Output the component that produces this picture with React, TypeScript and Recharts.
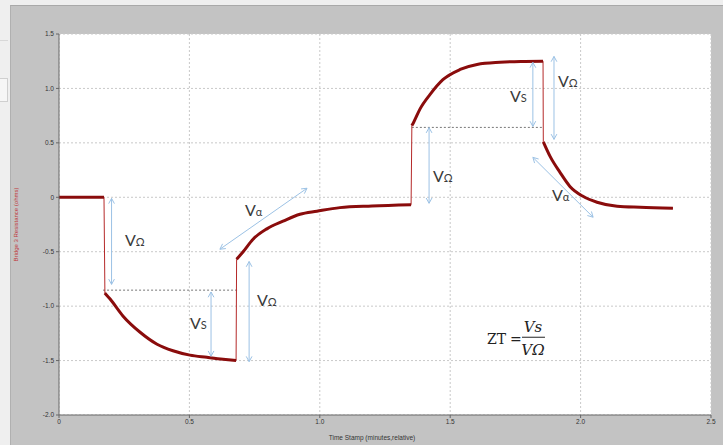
import React from 'react';
import {
  LineChart, Line, XAxis, YAxis, CartesianGrid, ReferenceLine, ReferenceDot, Label,
} from 'recharts';

// ---- data (time in minutes, resistance in ohms) ----
const flatSeg = [
  { t: 0, r: 0 }, { t: 0.1725, r: 0 },
];
const decaySeg1 = [
  { t: 0.176, r: -0.88 }, { t: 0.196, r: -0.935 }, { t: 0.245, r: -1.09 }, { t: 0.311, r: -1.24 },
  { t: 0.376, r: -1.35 }, { t: 0.437, r: -1.41 }, { t: 0.502, r: -1.45 }, { t: 0.567, r: -1.47 },
  { t: 0.629, r: -1.488 }, { t: 0.679, r: -1.5 },
];
const riseSeg1 = [
  { t: 0.681, r: -0.57 }, { t: 0.706, r: -0.5 }, { t: 0.744, r: -0.385 }, { t: 0.797, r: -0.29 },
  { t: 0.859, r: -0.22 }, { t: 0.924, r: -0.156 }, { t: 0.989, r: -0.128 }, { t: 1.077, r: -0.095 },
  { t: 1.2, r: -0.08 }, { t: 1.35, r: -0.068 },
];
const riseSeg2 = [
  { t: 1.353, r: 0.66 }, { t: 1.36, r: 0.69 }, { t: 1.384, r: 0.81 }, { t: 1.423, r: 0.945 },
  { t: 1.472, r: 1.08 }, { t: 1.538, r: 1.174 }, { t: 1.603, r: 1.22 }, { t: 1.691, r: 1.24 },
  { t: 1.77, r: 1.248 }, { t: 1.856, r: 1.25 },
];
const decaySeg2 = [
  { t: 1.857, r: 0.51 }, { t: 1.883, r: 0.376 }, { t: 1.921, r: 0.229 }, { t: 1.959, r: 0.1 },
  { t: 2.009, r: 0.009 }, { t: 2.063, r: -0.046 }, { t: 2.14, r: -0.083 }, { t: 2.228, r: -0.092 },
  { t: 2.354, r: -0.1 },
];
const allPoints = [...flatSeg, ...decaySeg1, ...riseSeg1, ...riseSeg2, ...decaySeg2];

const xTicks = [0, 0.5, 1.0, 1.5, 2.0, 2.5];
const yTicks = [-2.0, -1.5, -1.0, -0.5, 0, 0.5, 1.0, 1.5];

// annotation arrows: [x1, y1, x2, y2]
const arrows: number[][] = [
  [0.2015, -0.01, 0.2015, -0.8],
  [0.583, -0.87, 0.583, -1.46],
  [0.729, -0.59, 0.729, -1.51],
  [0.617, -0.477, 0.951, 0.083],
  [1.419, 0.64, 1.419, -0.055],
  [1.817, 1.239, 1.817, 0.651],
  [1.898, 1.294, 1.898, 0.532],
  [1.817, 0.367, 2.048, -0.183],
];
// dotted reference levels: [x1, x2, y]
const levels: number[][] = [
  [0.169, 0.683, -0.853],
  [1.353, 1.856, 0.642],
];
// labels: [x, y(baseline), subscript]
const labels: [number, number, string][] = [
  [0.253, -0.45, 'Ω'],
  [0.502, -1.211, 'S'],
  [0.759, -1.0, 'Ω'],
  [0.713, -0.174, 'α'],
  [1.434, 0.138, 'Ω'],
  [1.729, 0.872, 'S'],
  [1.913, 1.009, 'Ω'],
  [1.89, -0.037, 'α'],
];

const fmt = (v: number) => (v === 0 ? '0' : v.toFixed(1));
const ARROW = '#9cc2e5';
const RED = '#8a0c0c';

const Arrow = (props: any) => {
  const { x1, y1, x2, y2 } = props;
  const ang = Math.atan2(y2 - y1, x2 - x1);
  const h = 6;
  const a = 0.5;
  const head = (x: number, y: number, t: number) =>
    `M${x + h * Math.cos(t - a)},${y + h * Math.sin(t - a)} L${x},${y} L${x + h * Math.cos(t + a)},${y + h * Math.sin(t + a)} `;
  return (
    <g>
      <line x1={x1} y1={y1} x2={x2} y2={y2} stroke={ARROW} strokeWidth={1} />
      <path d={head(x1, y1, ang) + head(x2, y2, ang + Math.PI)} fill="none" stroke={ARROW} strokeWidth={1} />
    </g>
  );
};

const Dotted = (props: any) => {
  const { x1, y1, x2, y2 } = props;
  return <line x1={x1} y1={y1} x2={x2} y2={y2} stroke="#777" strokeWidth={1} strokeDasharray="2 2" />;
};

const makeLabel = (sub: string) => (props: any) => (
  <text x={props.cx} y={props.cy} fill="#3a3a3a" fontFamily="Lato, 'Open Sans', sans-serif" fontSize={16}>
    V<tspan fontSize={11}>{sub}</tspan>
  </text>
);

const Formula = (props: any) => {
  const { cx, cy } = props;
  const f = "'DejaVu Serif', 'Liberation Serif', serif";
  return (
    <g fill="#222" fontFamily={f}>
      <text x={cx} y={cy} fontSize={14}>ZT</text>
      <text x={cx + 23} y={cy} fontSize={14}>=</text>
      <text x={cx + 46} y={cy - 12} fontSize={15} fontStyle="italic" textAnchor="middle">Vs</text>
      <line x1={cx + 35} y1={cy - 7} x2={cx + 58} y2={cy - 7} stroke="#222" strokeWidth={1} />
      <text x={cx + 46} y={cy + 11} fontSize={15} fontStyle="italic" textAnchor="middle">VΩ</text>
    </g>
  );
};

const tickStyle = { fontSize: 6.5, fill: '#333', fontFamily: "'Liberation Sans', Arial, sans-serif" };

export default function App() {
  return (
    <div style={{ position: 'absolute', left: 0, top: 0, width: 723, height: 445, background: '#efefef', overflow: 'hidden' }}>
      <div style={{ position: 'absolute', left: 0, top: 40, width: 8, height: 1, background: '#d8d8d8' }} />
      <div style={{ position: 'absolute', left: -2, top: 78, width: 8, height: 22, border: '1px solid #cfcfcf', background: '#f6f6f6' }} />
      <div style={{ position: 'absolute', left: 10, top: 5, right: 0, bottom: 0, background: '#c3c3c3', borderTop: '1px solid #a9a9a9', borderLeft: '1px solid #b0b0b0' }} />
      <div style={{ position: 'absolute', left: 0, top: 0 }}>
        <LineChart width={723} height={445} margin={{ top: 34, right: 12, bottom: 10, left: 14 }}>
          <CartesianGrid stroke="#c9c9c9" strokeDasharray="2 2" fill="#ffffff" fillOpacity={1} />
          <XAxis
            dataKey="t" type="number" domain={[0, 2.5]} ticks={xTicks} tickFormatter={fmt}
            tick={tickStyle} tickSize={3} tickMargin={1} height={20} allowDataOverflow
            stroke="#666" interval={0}
          >
            <Label
              content={(p: any) => (
                <text x={p.viewBox.x + p.viewBox.width / 2 - 13} y={p.viewBox.y + 25} textAnchor="middle"
                  fontSize={6.5} fill="#333" fontFamily="'Liberation Sans', Arial, sans-serif">
                  Time Stamp (minutes,relative)
                </text>
              )}
            />
          </XAxis>
          <YAxis
            dataKey="r" type="number" domain={[-2, 1.5]} ticks={yTicks} tickFormatter={fmt}
            tick={tickStyle} tickSize={3} tickMargin={2} width={45} allowDataOverflow
            stroke="#666" interval={0}
          >
            <Label
              content={(p: any) => {
                const cx = p.viewBox.x + 2;
                const cy = p.viewBox.y + p.viewBox.height / 2;
                return (
                  <text x={cx} y={cy} transform={`rotate(-90 ${cx} ${cy})`} textAnchor="middle"
                    dominantBaseline="central" fontSize={6} fill="#c0393b"
                    fontFamily="'Liberation Sans', Arial, sans-serif">
                    Bridge 3 Resistance (ohms)
                  </text>
                );
              }}
            />
          </YAxis>
          {levels.map((l, i) => (
            <ReferenceLine key={`lv${i}`} segment={[{ x: l[0], y: l[2] }, { x: l[1], y: l[2] }]} shape={Dotted} />
          ))}
          <Line data={allPoints} dataKey="r" type="linear" stroke="#b52a2a" strokeWidth={1} dot={false} isAnimationActive={false} />
          <Line data={flatSeg} dataKey="r" type="linear" stroke={RED} strokeWidth={3} dot={false} isAnimationActive={false} />
          <Line data={decaySeg1} dataKey="r" type="monotone" stroke={RED} strokeWidth={3} dot={false} isAnimationActive={false} />
          <Line data={riseSeg1} dataKey="r" type="monotone" stroke={RED} strokeWidth={3} dot={false} isAnimationActive={false} />
          <Line data={riseSeg2} dataKey="r" type="monotone" stroke={RED} strokeWidth={3} dot={false} isAnimationActive={false} />
          <Line data={decaySeg2} dataKey="r" type="monotone" stroke={RED} strokeWidth={3} dot={false} isAnimationActive={false} />
          {arrows.map((a, i) => (
            <ReferenceLine key={`ar${i}`} segment={[{ x: a[0], y: a[1] }, { x: a[2], y: a[3] }]} shape={Arrow} />
          ))}
          {labels.map((l, i) => (
            <ReferenceDot key={`lb${i}`} x={l[0]} y={l[1]} r={0} shape={makeLabel(l[2])} />
          ))}
          <ReferenceDot x={1.641} y={-1.35} r={0} shape={Formula} />
        </LineChart>
      </div>
    </div>
  );
}
